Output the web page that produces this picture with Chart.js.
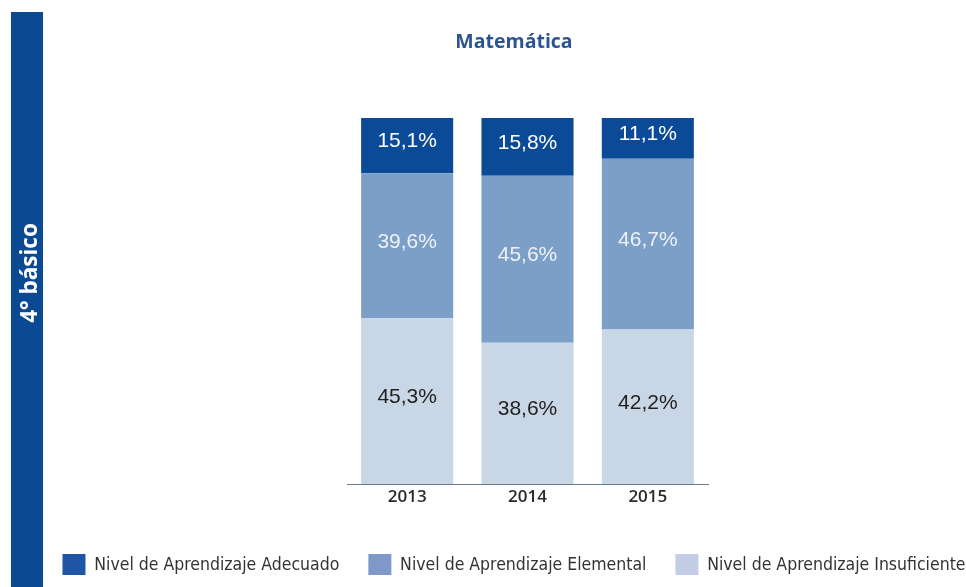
<!DOCTYPE html>
<html>
<head>
<meta charset="utf-8">
<script src="https://cdn.jsdelivr.net/npm/chart.js@4"></script>
<style>
  html, body { margin: 0; padding: 0; background: #fff; }
  #wrap { position: relative; width: 966px; height: 587px; overflow: hidden; }
  #chart { position: absolute; left: 0; top: 0; }
  #side { position: absolute; left: 11px; top: 12px; width: 32px; height: 575px; background: #0b4a93; }
  #side span {
    position: absolute; left: 52%; top: 261px;
    transform: translate(-50%, -50%) rotate(-90deg);
    color: #fff; font: bold 22.5px "Open Sans", sans-serif; white-space: nowrap;
  }
</style>
</head>
<body>
<div id="wrap">
  <canvas id="chart" width="966" height="587"></canvas>
  <div id="side"><span>4° básico</span></div>
</div>
<script>
// Data (percent of students per level)
const years = ["2013", "2014", "2015"];
const insuficiente = [45.3, 38.6, 42.2];
const elemental = [39.6, 45.6, 46.7];
const adecuado = [15.1, 15.8, 11.1];
const seriesNames = ["Nivel de Aprendizaje Insuficiente", "Nivel de Aprendizaje Elemental", "Nivel de Aprendizaje Adecuado"];

// Colours
const barColors = ["#c9d6e6", "#7b9fc7", "#0b4a97"];
const labelColors = ["#1f1f1f", "#eef2f8", "#ffffff"];
const legendColors = ["#c3cde5", "#7f97c9", "#1f55a5"];

// Writes the value in the middle of every segment
const segmentLabels = {
  id: "segmentLabels",
  afterDatasetsDraw(chart) {
    const ctx = chart.ctx;
    ctx.save();
    ctx.font = "21px 'Liberation Sans', Arial, sans-serif";
    ctx.textAlign = "center";
    ctx.textBaseline = "middle";
    chart.data.datasets.forEach((ds, i) => {
      ctx.fillStyle = labelColors[i];
      chart.getDatasetMeta(i).data.forEach((bar, j) => {
        const txt = ds.data[j].toFixed(1).replace(".", ",") + "%";
        ctx.fillText(txt, bar.x, (bar.y + bar.base) / 2 - 4);
      });
    });
    ctx.restore();
  }
};

const ctx = document.getElementById("chart").getContext("2d");
new Chart(ctx, {
  type: "bar",
  data: {
    labels: years,
    datasets: [
      { label: seriesNames[0], data: insuficiente, backgroundColor: barColors[0] },
      { label: seriesNames[1], data: elemental, backgroundColor: barColors[1] },
      { label: seriesNames[2], data: adecuado, backgroundColor: barColors[2] },
    ],
  },
  options: {
    responsive: false,
    animation: false,
    // negative right padding widens the legend row so all three items fit on one line
    layout: { padding: { left: 31, right: -31, top: 0, bottom: 12 } },
    datasets: { bar: { categoryPercentage: 1, barPercentage: 0.765, borderWidth: 0 } },
    plugins: {
      title: {
        display: true,
        text: "Matemática",
        color: "#2b5592",
        font: { family: "'Open Sans', sans-serif", size: 19.5, weight: "bold" },
        padding: { top: 30.3, bottom: 64.3 },
      },
      legend: {
        position: "bottom",
        reverse: true,
        maxHeight: 50,
        labels: {
          boxWidth: 23,
          boxHeight: 23,
          padding: 29,
          color: "#333",
          font: { family: "'DejaVu Sans Condensed', 'DejaVu Sans', sans-serif", size: 17.5 },
          generateLabels(chart) {
            return chart.data.datasets.map((ds, i) => ({
              text: ds.label,
              fillStyle: legendColors[i],
              strokeStyle: legendColors[i],
              lineWidth: 0,
              datasetIndex: i,
              fontColor: "#333",
            }));
          },
        },
      },
      tooltip: { enabled: false },
    },
    scales: {
      x: {
        stacked: true,
        grid: { display: false, drawTicks: false },
        border: { display: true, color: "#6b7b8c", width: 1 },
        ticks: { color: "#2a2a2a", padding: 3, font: { family: "'Open Sans', sans-serif", size: 17, weight: "600" } },
        afterFit: (s) => { s.height = 41; },
      },
      y: {
        stacked: true,
        min: 0,
        max: 100,
        grid: { display: false },
        border: { display: false },
        ticks: { display: false },
        afterFit: (s) => { s.width = 347 - 31; },
      },
      y2: {
        position: "right",
        grid: { display: false },
        border: { display: false },
        ticks: { display: false },
        afterFit: (s) => { s.width = 997 - 708; },
      },
    },
  },
  plugins: [segmentLabels],
});
</script>
</body>
</html>
